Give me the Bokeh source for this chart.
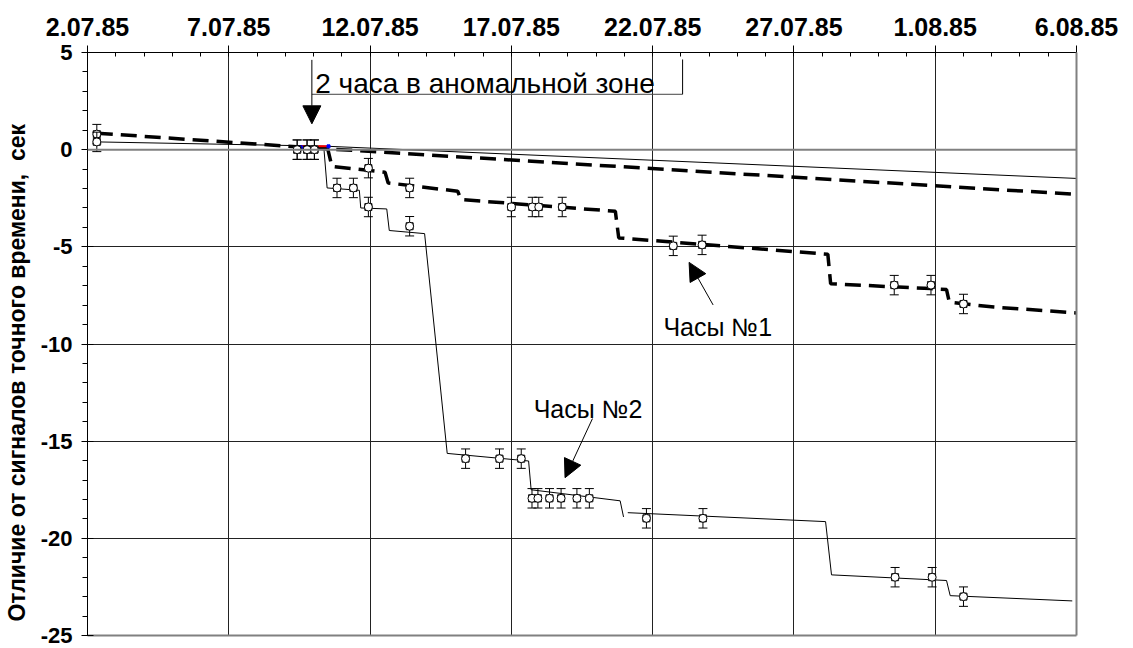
import numpy as np
from bokeh.plotting import figure
from bokeh.models import (Range1d, LinearAxis, SingleIntervalTicker, FixedTicker,
                          Label, Arrow, NormalHead, Span)
from bokeh.embed import file_html
from bokeh.resources import INLINE

# ---------------- data (x = days since 2.07.85) ----------------
tick_days = [0, 5, 10, 15, 20, 25, 30, 35]
tick_labels = ["2.07.85", "7.07.85", "12.07.85", "17.07.85", "22.07.85",
               "27.07.85", "1.08.85", "6.08.85"]
y_tick_vals = [5, 0, -5, -10, -15, -20, -25]
y_tick_labels = ["5", "0", "-5", "-10", "-15", "-20", "-25"]

# measurements, clock No.1
c1_days = [0.33, 7.42, 7.77, 8.03, 9.94, 11.4, 15.0, 15.74, 15.97, 16.8,
           20.73, 21.75, 28.55, 29.85, 31.0]
c1_vals = [0.8, 0.0, 0.0, 0.0, -0.95, -1.97, -2.95, -2.95, -2.95, -2.95,
           -4.95, -4.9, -6.97, -6.97, -7.94]
# measurements, clock No.2
c2_days = [0.33, 7.42, 7.77, 8.03, 8.83, 9.41, 9.94, 11.4, 13.38, 14.58, 15.35,
           15.73, 15.94, 16.35, 16.76, 17.32, 17.76, 19.78, 21.78, 28.58, 29.89, 31.0]
c2_vals = [0.4, 0.0, 0.0, 0.0, -1.97, -1.97, -2.95, -3.94, -15.9, -15.9, -15.9,
           -17.94, -17.94, -17.94, -17.94, -17.94, -17.94, -18.97, -18.97, -22.0, -22.0, -23.0]
err = 0.5

# extrapolated rates before the anomaly
rate1_days = [0.33, 8.4, 35.0]
rate1_vals = [0.85, 0.05, -2.3]
rate2_days = [0.33, 8.4, 35.0]
rate2_vals = [0.4, 0.18, -1.48]

# model after the anomaly, clock No.1 (dashed)
c1_line_days = [8.4, 8.5, 8.65, 10.53, 10.64, 13.1, 13.22, 18.68, 18.8, 26.2,
                26.3, 29.85, 30.4, 30.5, 32.08, 35.0]
c1_line_vals = [0.1, 0.05, -0.86, -1.16, -1.71, -2.14, -2.57, -3.17, -4.54, -5.38,
                -6.9, -7.15, -7.2, -7.85, -8.1, -8.4]
# model after the anomaly, clock No.2 (thin, two pieces)
c2_line_a_days = [8.36, 8.48, 9.62, 9.67, 10.59, 10.68, 11.93, 12.73, 15.61, 15.7, 18.85, 18.97]
c2_line_a_vals = [0.18, -1.97, -2.09, -3.0, -3.05, -4.16, -4.32, -15.63, -16.02, -17.5, -18.07, -18.9]
c2_line_b_days = [19.12, 26.12, 26.33, 30.4, 30.53, 34.85]
c2_line_b_vals = [-18.68, -19.14, -21.88, -22.17, -22.95, -23.22]

# anomaly marks (red / blue)
red_days = [[7.59, 7.72], [8.16, 8.48]]
red_vals = [[0.17, 0.17], [0.17, 0.17]]
blue_days = [7.55, 8.53]
blue_vals = [0.12, 0.17]

# annotations
anom_text = "2 часа в аномальной зоне"
anom_box_x = [7.94, 21.06]
anom_box_y = [2.85, 4.64]
anom_arrow = (7.94, 4.62, 7.94, 1.33)
clock1_text = "Часы №1"
clock1_pos = (20.38, -9.14)
clock1_arrow = (22.14, -7.99, 21.29, -5.8)
clock2_text = "Часы №2"
clock2_pos = (15.79, -13.36)
clock2_arrow = (17.87, -13.84, 16.9, -16.88)

# two no-break spaces before the unit as in the original; trailing ones
# move the centred title down to where the original sits
ytitle = "Отличие от сигналов точного времени,\u00a0\u00a0сек" + "\u00a0" * 9

FONT = "Liberation Sans"

# ---------------- figure ----------------
p = figure(frame_width=989, frame_height=583,
           x_range=Range1d(0, 35), y_range=Range1d(-25, 5),
           x_axis_location="above", output_backend="svg", toolbar_location=None,
           min_border_left=85, min_border_right=43, min_border_top=52,
           min_border_bottom=13)
p.outline_line_color = None
p.background_fill_color = "white"
p.border_fill_color = "white"

xa = p.xaxis[0]
xa.ticker = SingleIntervalTicker(interval=5, num_minor_ticks=5)
xa.major_label_overrides = {d: s for d, s in zip(tick_days, tick_labels)}
xa.major_label_text_font = FONT
xa.major_label_text_font_style = "bold"
xa.major_label_text_font_size = "25px"
xa.major_label_text_color = "black"
xa.major_label_standoff = 10
xa.major_tick_out = 7
xa.major_tick_in = 0
xa.minor_tick_out = 0
xa.minor_tick_in = 4
xa.axis_line_color = "black"
xa.major_tick_line_color = "black"
xa.minor_tick_line_color = "black"

ya = p.yaxis[0]
ya.ticker = SingleIntervalTicker(interval=5, num_minor_ticks=5)
ya.major_label_overrides = {v: s for v, s in zip(y_tick_vals, y_tick_labels)}
ya.major_label_text_font = FONT
ya.major_label_text_font_style = "bold"
ya.major_label_text_font_size = "22px"
ya.major_label_text_color = "black"
ya.major_label_standoff = 9
ya.major_tick_out = 6
ya.major_tick_in = 6
ya.minor_tick_out = 5
ya.minor_tick_in = 0
ya.axis_line_color = "black"
ya.axis_label = ytitle
ya.axis_label_text_font = FONT
ya.axis_label_text_font_style = "bold"
ya.axis_label_text_font_size = "23px"
ya.axis_label_text_color = "black"
ya.axis_label_standoff = 8

right_ax = LinearAxis(ticker=FixedTicker(ticks=[]), major_label_text_font_size="0px",
                      axis_line_color="#808080", axis_line_width=2,
                      major_tick_line_color=None, minor_tick_line_color=None)
bottom_ax = LinearAxis(ticker=FixedTicker(ticks=[]), major_label_text_font_size="0px",
                       axis_line_color="#808080", axis_line_width=2,
                       major_tick_line_color=None, minor_tick_line_color=None)
p.add_layout(right_ax, "right")
p.add_layout(bottom_ax, "below")

p.xgrid.ticker = SingleIntervalTicker(interval=5)
p.ygrid.ticker = SingleIntervalTicker(interval=5)
p.xgrid.grid_line_color = "#222222"
p.ygrid.grid_line_color = "#222222"
p.xgrid.grid_line_width = 1
p.ygrid.grid_line_width = 1
p.add_layout(Span(location=0, dimension="width", line_color="#808080", line_width=2))

# rate lines
p.line(rate2_days, rate2_vals, line_color="black", line_width=1)
p.line(rate1_days, rate1_vals, line_color="black", line_width=3.5, line_dash="16 8")

# models
p.line(c1_line_days, c1_line_vals, line_color="black", line_width=3.5, line_dash="16 8")
p.line(c2_line_a_days, c2_line_a_vals, line_color="black", line_width=1)
p.line(c2_line_b_days, c2_line_b_vals, line_color="black", line_width=1)

p.multi_line(red_days, red_vals, line_color="red", line_width=2)
p.scatter(blue_days, blue_vals, marker="square", size=3, fill_color="blue", line_color="blue")

# measurements with error bars
for days, vals in ((c1_days, c1_vals), (c2_days, c2_vals)):
    d = np.array(days)
    v = np.array(vals)
    p.segment(d, v - err, d, v + err, line_color="black", line_width=1)
    p.scatter(d, v - err, marker="dash", size=9, line_color="black", line_width=1)
    p.scatter(d, v + err, marker="dash", size=9, line_color="black", line_width=1)
    p.scatter(d, v, marker="square", size=7, fill_color="white", line_color="black", line_width=1)
    p.scatter(d, v, marker="circle", size=8, fill_color="white", line_color="black", line_width=1)

# annotation box + arrows
p.line([anom_box_x[0], anom_box_x[1]], [anom_box_y[0], anom_box_y[0]], line_color="#444444", line_width=1)
p.line([anom_box_x[1], anom_box_x[1]], [anom_box_y[0], anom_box_y[1]], line_color="black", line_width=1)
for (x0, y0, x1, y1) in (anom_arrow, clock1_arrow, clock2_arrow):
    p.add_layout(Arrow(end=NormalHead(size=18, fill_color="black", line_color="black"),
                       x_start=x0, y_start=y0, x_end=x1, y_end=y1,
                       line_color="black", line_width=1))

p.add_layout(Label(x=anom_box_x[0] + 0.12, y=3.41, text=anom_text, text_font=FONT,
                   text_font_size="28px", text_color="black", text_baseline="alphabetic"))
p.add_layout(Label(x=clock1_pos[0], y=clock1_pos[1], text=clock1_text, text_font=FONT,
                   text_font_size="25px", text_color="black", text_baseline="alphabetic"))
p.add_layout(Label(x=clock2_pos[0], y=clock2_pos[1], text=clock2_text, text_font=FONT,
                   text_font_size="25px", text_color="black", text_baseline="alphabetic"))

open("out.html", "w").write(file_html(p, INLINE))
